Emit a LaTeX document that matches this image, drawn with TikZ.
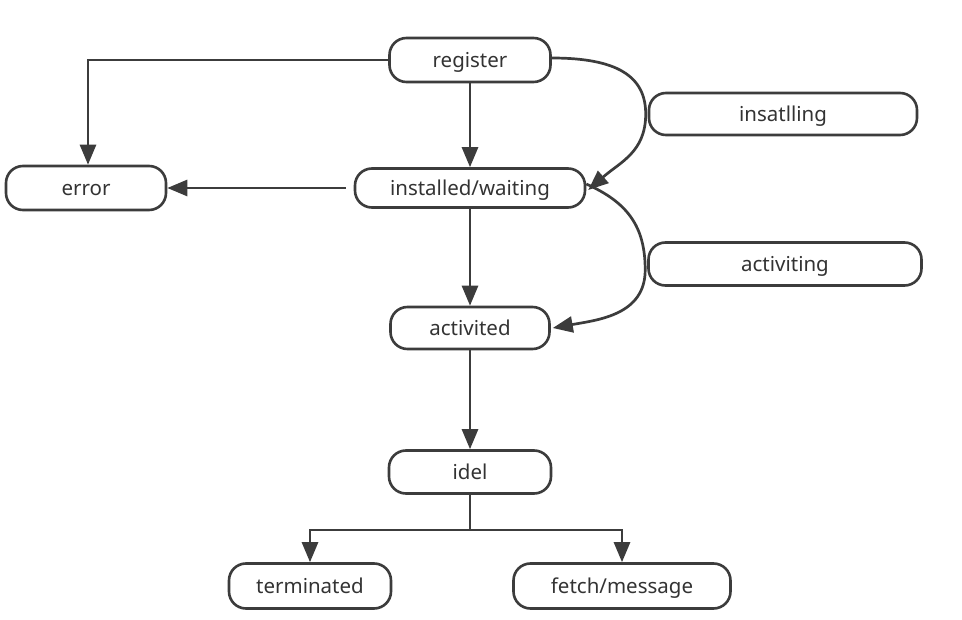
\documentclass[tikz,border=0pt]{standalone}
\usepackage{fontspec}
\setmainfont{Noto Sans}
\usetikzlibrary{arrows.meta}
\definecolor{edgec}{HTML}{3c3c3c}
\definecolor{textc}{HTML}{333333}
\begin{document}
\begin{tikzpicture}[x=1pt,y=-1pt,
  state/.style={draw=edgec, line width=2.6pt, rounded corners=17pt, fill=white,
    text=textc, font=\fontsize{20.5}{24}\selectfont, inner sep=0pt,
    text height=19pt, text depth=4pt},
  conn/.style={draw=edgec, line width=2.7pt, -{Triangle[length=20pt,width=16pt]}},
  plain/.style={draw=edgec, line width=2.7pt}]
\useasboundingbox[fill=white] (0,0) rectangle (962,620);

\node[state, minimum width=161pt, minimum height=44pt] (register) at (470,60) {register};
\node[state, minimum width=268pt, minimum height=42pt] (insatlling) at (783,114) {insatlling};
\node[state, minimum width=160pt, minimum height=44pt] (error) at (86,188) {error};
\node[state, minimum width=230pt, minimum height=39pt] (installed) at (470,188) {installed/waiting};
\node[state, minimum width=273pt, minimum height=43pt] (activiting) at (785,264) {activiting};
\node[state, minimum width=159pt, minimum height=42pt] (activited) at (470,328) {activited};
\node[state, minimum width=162pt, minimum height=43pt] (idel) at (470,472) {idel};
\node[state, minimum width=162pt, minimum height=45pt] (terminated) at (310,586) {terminated};
\node[state, minimum width=217pt, minimum height=45pt] (fetch) at (622,586) {fetch/message};
\coordinate (j) at (470,530);

\draw[conn] (register.south) -- (installed.north);
\draw[conn] (register.west) -| ([xshift=2pt]error.north);
\draw[conn, shorten <=8pt] (installed.west) -- (error.east);
\draw[conn] ([yshift=2pt]register.east) .. controls +(65,0) and +(0,-38) .. ([xshift=-2pt]insatlling.west)
  .. controls +(0,38) and +(32,-28) .. ([xshift=2pt,yshift=-2pt]installed.east);
\draw[conn] ([yshift=4pt]installed.east) .. controls +(40,18) and +(0,-45) .. ([xshift=-2pt,yshift=-6pt]activiting.west)
  .. controls +(0,45) and +(45,-8) .. ([xshift=2pt]activited.east);
\draw[conn] (installed.south) -- (activited.north);
\draw[conn] (activited.south) -- (idel.north);
\draw[plain] (idel.south) -- (j);
\draw[conn] (j) -| (terminated.north);
\draw[conn] (j) -| (fetch.north);
\end{tikzpicture}
\end{document}
